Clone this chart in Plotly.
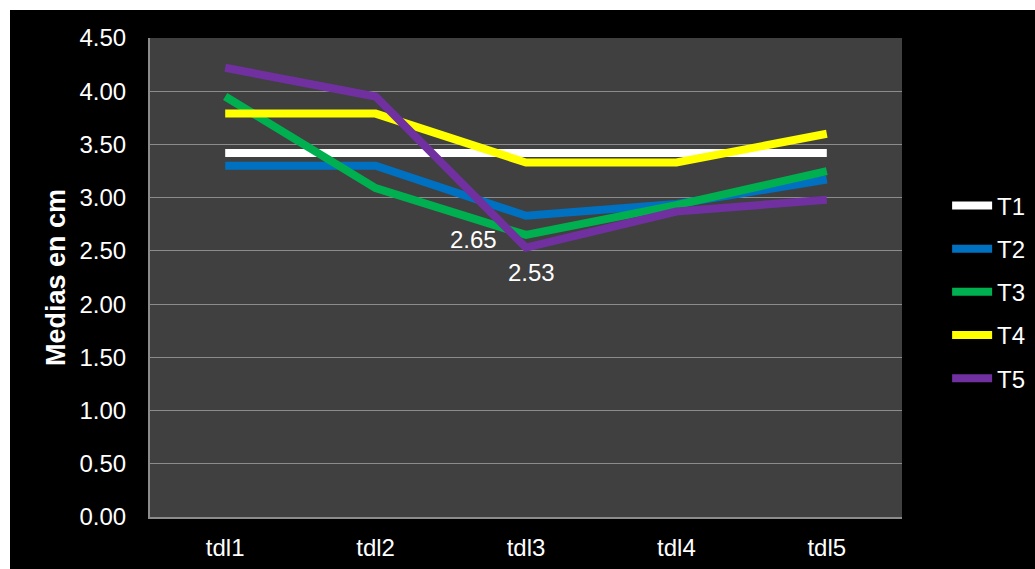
import plotly.graph_objects as go

# Mean values (cm) per treatment across the five sampling dates
categories = ["tdl1", "tdl2", "tdl3", "tdl4", "tdl5"]
t1 = [3.42, 3.42, 3.42, 3.42, 3.42]
t2 = [3.30, 3.30, 2.83, 2.94, 3.17]
t3 = [3.95, 3.09, 2.65, 2.93, 3.25]
t4 = [3.79, 3.79, 3.33, 3.33, 3.60]
t5 = [4.22, 3.95, 2.53, 2.87, 2.98]

series = [
    ("T1", t1, "#FFFFFF"),
    ("T2", t2, "#0070C0"),
    ("T3", t3, "#00B050"),
    ("T4", t4, "#FFFF00"),
    ("T5", t5, "#7030A0"),
]

FONT = "Liberation Sans, Arial, sans-serif"

fig = go.Figure()
for name, vals, color in series:
    fig.add_trace(go.Scatter(
        x=categories, y=vals, name=name, mode="lines",
        line=dict(color=color, width=8),
        legendgroup=name,
    ))

# Value labels at tdl3 for T3 and T5
fig.add_annotation(x=categories[2], y=t3[2], text=f"{t3[2]:.2f}",
                   showarrow=False, xanchor="right", yanchor="middle",
                   xshift=-27, yshift=-5,
                   font=dict(family=FONT, size=24, color="white"))
fig.add_annotation(x=categories[2], y=t5[2], text=f"{t5[2]:.2f}",
                   showarrow=False, xanchor="center", yanchor="middle",
                   xshift=5, yshift=-25,
                   font=dict(family=FONT, size=24, color="white"))

# White strips along the top and left edges of the page
fig.add_shape(type="rect", xref="paper", yref="paper",
              x0=-0.25, x1=1.4, y0=(517 - 10) / 479, y1=1.2,
              fillcolor="white", line_width=0, layer="above")
fig.add_shape(type="rect", xref="paper", yref="paper",
              x0=-0.25, x1=(10 - 150) / 752, y0=-0.2, y1=1.2,
              fillcolor="white", line_width=0, layer="above")

fig.update_layout(
    width=1035, height=569,
    margin=dict(l=150, r=133, t=38, b=52, autoexpand=False),
    paper_bgcolor="black",
    plot_bgcolor="#404040",
    font=dict(family=FONT, size=24, color="white"),
    showlegend=True,
    legend=dict(
        x=1.060, y=0.470, xanchor="left", yanchor="middle",
        bgcolor="rgba(0,0,0,0)",
        font=dict(family=FONT, size=24, color="white"),
        tracegroupgap=9,
        itemwidth=40,
    ),
    xaxis=dict(
        type="category",
        showgrid=False,
        showline=True, linecolor="#8C8C8C", linewidth=2,
        ticks="", ticklabelstandoff=8,
        tickfont=dict(family=FONT, size=24, color="white"),
        range=[-0.5, 4.5],
        automargin=False,
    ),
    yaxis=dict(
        range=[0, 4.5], dtick=0.5, tickformat=".2f",
        showgrid=True, gridcolor="#8C8C8C", gridwidth=1,
        showline=True, linecolor="#8C8C8C", linewidth=2,
        zeroline=False,
        ticks="", ticklabelstandoff=17,
        tickfont=dict(family=FONT, size=24, color="white"),
        title=dict(text="<b>Medias en cm</b>", standoff=6,
                   font=dict(family=FONT, size=27, color="white")),
        automargin=False,
    ),
)

fig.write_html("out.html")
